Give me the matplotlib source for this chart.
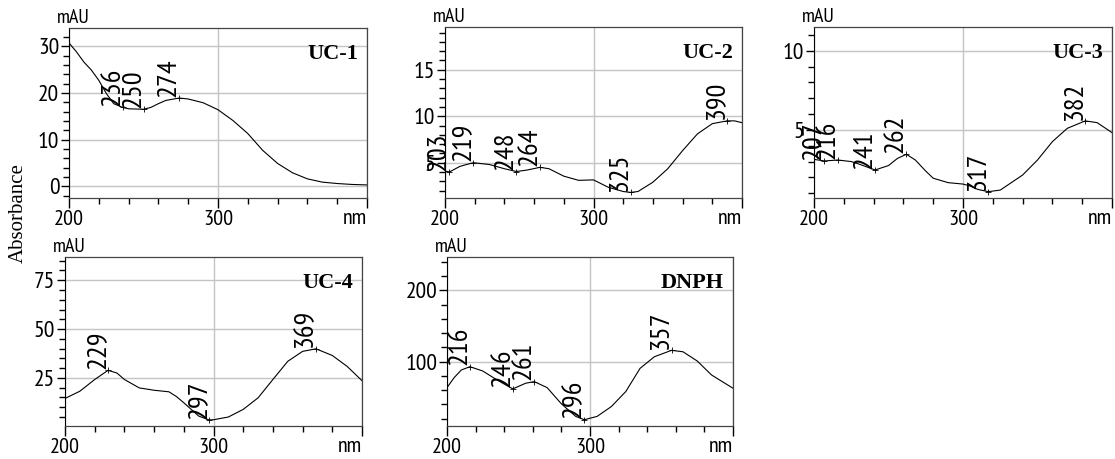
import matplotlib
matplotlib.use('Agg')
import matplotlib.pyplot as plt
from matplotlib.ticker import MultipleLocator
from matplotlib.transforms import offset_copy

narrow = ['PT Sans Narrow', 'Roboto Condensed', 'DejaVu Sans']
serif = ['Liberation Serif', 'DejaVu Serif']
plt.rcParams['font.family'] = narrow

# spectra (nm, mAU)
uc1_nm = [200, 205, 210, 215, 220, 225, 230, 236, 240, 250, 255, 260, 265, 274, 280,
          290, 300, 310, 320, 330, 340, 350, 360, 370, 380, 390, 400]
uc1_mau = [30.7, 28.8, 26.6, 24.9, 22.7, 19.9, 17.7, 16.9, 16.6, 16.5, 16.9, 17.7, 18.4, 18.9, 18.7,
           17.9, 16.4, 14.1, 11.3, 7.7, 4.9, 2.9, 1.6, 0.9, 0.6, 0.4, 0.3]
uc1_peaks = [236, 250, 274]
uc1_peak_mau = [16.9, 16.5, 18.9]

uc2_nm = [200, 203, 210, 219, 230, 240, 248, 255, 264, 270, 280, 290, 300, 310, 320,
          325, 330, 340, 350, 360, 370, 380, 390, 395, 400]
uc2_mau = [4.1, 4.0, 4.6, 5.0, 4.8, 4.35, 4.05, 4.2, 4.5, 4.35, 3.55, 3.1, 3.15, 2.35, 1.9,
           1.8, 1.9, 2.9, 4.35, 6.3, 8.1, 9.2, 9.5, 9.5, 9.3]
uc2_peaks = [203, 219, 248, 264, 325, 390]
uc2_peak_mau = [4.0, 5.0, 4.05, 4.5, 1.8, 9.5]

uc3_nm = [200, 207, 216, 225, 230, 241, 250, 256, 262, 268, 275, 280, 290, 300, 305,
          310, 317, 325, 340, 350, 360, 370, 382, 390, 400]
uc3_mau = [3.14, 3.04, 3.1, 3.0, 2.85, 2.47, 2.75, 3.2, 3.46, 3.1, 2.4, 1.95, 1.67, 1.58, 1.45,
           1.24, 1.1, 1.2, 2.15, 3.1, 4.26, 5.1, 5.57, 5.46, 4.83]
uc3_peaks = [207, 216, 241, 262, 317, 382]
uc3_peak_mau = [3.04, 3.1, 2.47, 3.46, 1.1, 5.57]

uc4_nm = [200, 210, 220, 229, 235, 240, 250, 260, 270, 275, 280, 290, 297, 300, 310,
          320, 330, 340, 350, 360, 369, 380, 390, 400]
uc4_mau = [14.5, 18.2, 24.2, 28.9, 27.5, 24.2, 19.9, 18.7, 17.9, 15.5, 12.3, 5.5, 3.5, 3.6, 5.0,
           8.9, 14.8, 24.2, 33.5, 38.6, 39.9, 36.5, 30.9, 23.6]
uc4_peaks = [229, 297, 369]
uc4_peak_mau = [28.9, 3.5, 39.9]

dnph_nm = [200, 205, 210, 216, 225, 235, 246, 255, 261, 270, 280, 290, 296, 305, 315,
           325, 335, 345, 357, 365, 375, 385, 400]
dnph_mau = [63.7, 77.7, 88.4, 93, 87, 74.4, 61.9, 69.8, 72.1, 63.7, 40.9, 23.3, 18.6, 23.3, 37.2,
            58.1, 90.7, 107, 116, 114, 101, 81.4, 62.8]
dnph_peaks = [216, 246, 261, 296, 357]
dnph_peak_mau = [93, 61.9, 72.1, 18.6, 116]

names = ['UC-1', 'UC-2', 'UC-3', 'UC-4', 'DNPH']
spectra = [(uc1_nm, uc1_mau, uc1_peaks, uc1_peak_mau),
           (uc2_nm, uc2_mau, uc2_peaks, uc2_peak_mau),
           (uc3_nm, uc3_mau, uc3_peaks, uc3_peak_mau),
           (uc4_nm, uc4_mau, uc4_peaks, uc4_peak_mau),
           (dnph_nm, dnph_mau, dnph_peaks, dnph_peak_mau)]
y_ranges = [(-2.5, 33.9), (1.2, 19.6), (0.7, 11.5), (0.4, 86.9), (9.8, 247)]
y_major = [10, 5, 5, 25, 100]
y_minor = [2, 1, 1, 5, 20]

# panel boxes in pixels: left, top, right, bottom
W, H = 1115, 459
boxes = [(69, 28, 367, 198), (445, 27, 742, 198), (814, 27, 1112, 198),
         (65, 257, 362, 426), (447, 257, 733, 426)]

fig = plt.figure(figsize=(W / 100, H / 100), dpi=100)

for name, (nm, mau, pk, pkv), yl, ymaj, ymin, (l, t, r, b) in zip(
        names, spectra, y_ranges, y_major, y_minor, boxes):
    ax = fig.add_axes([l / W, 1 - b / H, (r - l) / W, (b - t) / H])
    ax.plot(nm, mau, color='black', lw=0.8)
    ax.plot(pk, pkv, ls='none', marker='+', ms=5, mew=0.6, color='black')
    for p, v in zip(pk, pkv):
        ax.annotate(str(p), (p, v), xytext=(1, 1), textcoords='offset points',
                    rotation=90, ha='right', va='bottom', fontsize=20.5)

    ax.set_xlim(200, 400)
    ax.set_ylim(*yl)
    ax.set_xticks([200, 300, 400])
    ax.set_xticklabels(['200', '300', ''])
    ax.xaxis.set_minor_locator(MultipleLocator(20))
    ax.yaxis.set_major_locator(MultipleLocator(ymaj))
    ax.yaxis.set_minor_locator(MultipleLocator(ymin))
    ax.grid(True, which='major', color='#c4c4c4', lw=1)
    ax.set_axisbelow(True)

    ax.tick_params(axis='x', which='major', length=7.5, width=1, pad=1, labelsize=16)
    ax.tick_params(axis='x', which='minor', length=4, width=1)
    ax.tick_params(axis='y', which='major', length=6, width=1, pad=1, labelsize=17)
    ax.tick_params(axis='y', which='minor', length=4, width=1)
    for s in ['top', 'right', 'bottom']:
        ax.spines[s].set_color('#444444')
        ax.spines[s].set_linewidth(0.9)
    ax.spines['left'].set_color('black')

    ax.text(0, 1, 'mAU', transform=offset_copy(ax.transAxes, fig, x=-12, y=1, units='dots'),
            ha='left', va='bottom', fontsize=14.5)
    ax.text(1, 0, 'nm', transform=offset_copy(ax.transAxes, fig, x=0, y=-11, units='dots'),
            ha='right', va='top', fontsize=16)
    ax.text(1, 1, name, transform=offset_copy(ax.transAxes, fig, x=-9, y=-16, units='dots'),
            ha='right', va='top', fontsize=16, fontweight='bold', family=serif)

fig.text(18 / W, 1 - 213 / H, 'Absorbance', rotation=90, ha='center', va='center',
         fontsize=15, family=serif)

fig.savefig('out.png', dpi=100)
